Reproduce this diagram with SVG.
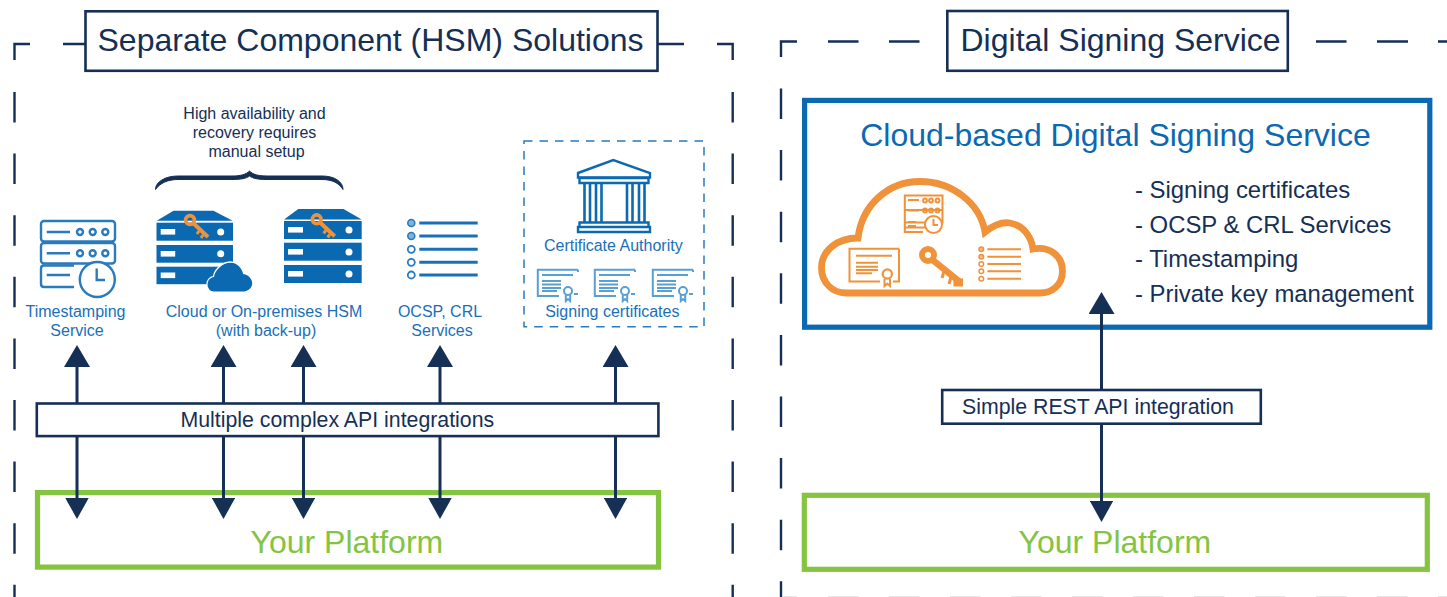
<svg xmlns="http://www.w3.org/2000/svg" xmlns:xlink="http://www.w3.org/1999/xlink" width="1447" height="597" viewBox="0 0 1447 597">
<style>
text{font-family:"Liberation Sans",Arial,sans-serif}
.navy{fill:#152f55}.blue{fill:#1a70b8}.green{fill:#84c441}
.t32{font-size:32px}.t21{font-size:21.3px}.t23{font-size:23.9px}.t16{font-size:16px}
.mid{text-anchor:middle}
.frame{fill:none;stroke:#152f55;stroke-width:2.4}
.dash{stroke-dasharray:30.5 31.1}
.titlebox{fill:#fff;stroke:#152f55;stroke-width:2.6}
.apibox{fill:#fff;stroke:#152f55;stroke-width:2.6}
.gbox{fill:#fff;stroke:#84c441;stroke-width:5.2}
.bbox{fill:#fff;stroke:#0b69b2;stroke-width:5.2}
.conn{fill:none;stroke:#152f55;stroke-width:3}
.bar{fill:#0b69b2}.wh{fill:#fff}
.ol{fill:none;stroke:#2a7bbd;stroke-width:2.4}
.oc{fill:none;stroke:#f0923a;stroke-width:2}
.cert{fill:none;stroke:#5a9fd4;stroke-width:2}
</style>
<defs>
<marker id="hu" markerUnits="userSpaceOnUse" viewBox="-22 -13 22 26" refX="0" refY="0" markerWidth="22" markerHeight="26" orient="auto"><path d="M0-13V13L-22 0Z" fill="#152f55"/></marker>
<marker id="hd" markerUnits="userSpaceOnUse" viewBox="0 -11.7 21 23.4" refX="0" refY="0" markerWidth="21" markerHeight="23.4" orient="auto"><path d="M0-11.7V11.7L21 0Z" fill="#152f55"/></marker>
<g id="key">
<path d="M2 2L18 17" fill="none" stroke="#f0923a" stroke-width="4"/><path d="M9 11l-2 3M13 15l-2 3" stroke="#f0923a" stroke-width="3" fill="none"/>
<circle r="4.400" cx="0" cy="0" fill="none" stroke="#f0923a" stroke-width="3.600"/>
</g>
<g id="c1">
<path class="cert" d="M41 .8H.8V27H22"/>
<path class="cert" d="M5 6H36M5 12H24M5 15.500H24M5 19H24M5 22H20"/>
<path class="cert" d="M41 .8V3M41 25H37"/>
<circle cx="31" cy="22" r="4" fill="#fff" stroke="#5a9fd4" stroke-width="2"/>
<path class="cert" d="M28.800 26V32L31 30L33.200 32V26"/>
</g>
</defs>

<g id="frames">
<path class="frame" d="M14.500 60V44H30M63 44H85M658 44H684M717 44H732.700V60"/>
<path class="frame dash" d="M14.500 92V597"/>
<path class="frame dash" d="M732.700 92V597"/>
<path class="frame" d="M781 57V41.500H797M828 41.500H858.500M889 41.500H919.500M1316 41.500H1346.500M1377 41.500H1408M1438 41.500H1447"/>
<path class="frame dash" d="M781 88.500V597"/>
<path d="M783 596.500H797M828 596.500H858.500M889 596.500H919.500M950 596.500H980.500M1011 596.500H1041.500M1072 596.500H1102.500M1133 596.500H1163.500M1194 596.500H1224.500M1255 596.500H1285.500M1316 596.500H1346.500M1377 596.500H1407.500M1438 596.500H1447" stroke="#e6e6e6" stroke-width="1" fill="none"/>
</g>

<g id="title-left"><rect class="titlebox" x="85.500" y="11.300" width="572" height="59.500"/><text class="navy t32" x="97.500" y="51">Separate Component (HSM) Solutions</text></g>
<g id="title-right"><rect class="titlebox" x="947.300" y="11" width="340.500" height="59.800"/><text class="navy t32" x="960.500" y="51">Digital Signing Service</text></g>

<g id="platform-left"><rect class="gbox" x="37.500" y="492.600" width="621" height="74.500"/><text class="green t32" x="250.500" y="552.500">Your Platform</text></g>
<g id="platform-right"><rect class="gbox" x="804.300" y="495.300" width="623" height="74"/><text class="green t32" x="1018.500" y="552.500">Your Platform</text></g>

<g id="cloud-service">
<rect class="bbox" x="804.600" y="100.400" width="625.200" height="226.800"/>
<text class="t32 mid" x="1115.500" y="146" fill="#0b69b2">Cloud-based Digital Signing Service</text>
<g id="cloud-icon">
<path d="M846 293C832 293 821.500 282 821.500 268C821.500 250 838 238 858 238C862 205 888 181.500 920 181.500C952 181.500 980 203 985 232C995 224 1003 222 1010 223C1022 225 1031 235 1033 249C1050 246 1062.500 256 1062.500 271C1062.500 285 1052 293 1040 293Z" fill="none" stroke="#f0923a" stroke-width="6.800"/>
<rect x="980" y="240" width="44" height="45" fill="#fff"/>
<path class="oc" d="M904.800 195.500H942.500V210H904.800ZM904.800 210V222.500H942.500V210M904.800 222.500V227.500H925M904.800 227.500V232H923"/>
<path class="oc" d="M908 200H919M908 210.500H919M908 222H916M908 226H916"/>
<circle class="oc" cx="925" cy="200.500" r="1.900"/><circle class="oc" cx="931" cy="200.500" r="1.900"/><circle class="oc" cx="937.500" cy="200.500" r="1.900"/>
<circle class="oc" cx="925" cy="210.500" r="1.900"/><circle class="oc" cx="931" cy="210.500" r="1.900"/><circle class="oc" cx="937.500" cy="210.500" r="1.900"/>
<circle cx="933.500" cy="224.500" r="8.500" fill="#fff" stroke="#f0923a" stroke-width="2"/><path class="oc" d="M933.500 219V225H938"/>
<path class="oc" d="M899 248.800H849.500V281.500H880M899 248.800V281.500H893"/>
<path class="oc" d="M856 255.700H892M856 262.700H878M856 266.700H878M856 270H878M856 273.300H872"/>
<circle cx="887.300" cy="274" r="4.600" fill="#fff" stroke="#f0923a" stroke-width="2.200"/><path class="oc" d="M884.500 279V286L887.300 283.500L890 286V279"/>
<circle cx="928" cy="255" r="6" fill="none" stroke="#f0923a" stroke-width="6"/>
<path d="M932 259.500L960 282" fill="none" stroke="#f0923a" stroke-width="6.500"/><path d="M944 271l-2 7M951 277l-2 7M955 280v5H961.500V280Z" fill="#f0923a" stroke="#f0923a" stroke-width="3"/>
<path class="oc" d="M987.300 249.300H1021M987.300 256.700H1021M987.300 264H1021M987.300 271.300H1021M987.300 278.700H1021"/>
<circle cx="981.300" cy="249.300" r="2.300" fill="#f7bd85" stroke="#f0923a" stroke-width="1.500"/><circle cx="981.300" cy="256.700" r="2.300" fill="#f7bd85" stroke="#f0923a" stroke-width="1.500"/><circle cx="981.300" cy="264" r="2.300" fill="#fff" stroke="#f0923a" stroke-width="1.500"/><circle cx="981.300" cy="271.300" r="2.300" fill="#fff" stroke="#f0923a" stroke-width="1.500"/><circle cx="981.300" cy="278.700" r="2.300" fill="#fff" stroke="#f0923a" stroke-width="1.500"/>
</g>
<text class="navy t23" x="1135" y="198">- Signing certificates</text>
<text class="navy t23" x="1135" y="232.500">- OCSP &amp; CRL Services</text>
<text class="navy t23" x="1135" y="267">- Timestamping</text>
<text class="navy t23" x="1135" y="301.500">- Private key management</text>
</g>

<g id="connectors">
<path class="conn" marker-start="url(#hu)" marker-end="url(#hd)" d="M77 367V498"/>
<path class="conn" marker-start="url(#hu)" marker-end="url(#hd)" d="M223.500 367V498"/>
<path class="conn" marker-start="url(#hu)" marker-end="url(#hd)" d="M303.500 367V498"/>
<path class="conn" marker-start="url(#hu)" marker-end="url(#hd)" d="M440 367V498"/>
<path class="conn" marker-start="url(#hu)" marker-end="url(#hd)" d="M615.500 367V498"/>
<path class="conn" marker-start="url(#hu)" marker-end="url(#hd)" d="M1101.500 314V501"/>
</g>

<g id="api-left"><rect class="apibox" x="36.800" y="403.500" width="621.600" height="32.600"/><text class="navy t21" x="180.500" y="427">Multiple complex API integrations</text></g>
<g id="api-right"><rect class="apibox" x="942.200" y="390" width="318.600" height="33.700"/><text class="navy t21" x="962" y="413.500">Simple REST API integration</text></g>

<g id="brace-note">
<text class="navy t16 mid" x="254.500" y="119">High availability and</text>
<text class="navy t16 mid" x="254.500" y="138">recovery requires</text>
<text class="navy t16 mid" x="256.500" y="157">manual setup</text>
<path d="M155.500 189.500C155.500 182 165 176 178 176H232C241 176 246 174.500 249.500 171C253 174.500 258 176 267 176H322C335 176 343 182 343 189.500C339 183 332 179.500 322 179.500H267C258 179.500 253 178.500 249.500 176C246 178.500 241 179.500 232 179.500H178C168 179.500 160 183 155.500 189.500Z" fill="#152f55" stroke="#152f55" stroke-width="1"/>
</g>

<g id="timestamping">
<rect class="ol" x="41" y="221" width="74" height="20.500" rx="3"/>
<rect class="ol" x="41" y="243" width="74" height="20.500" rx="3"/>
<path class="ol" d="M74 265.500H44Q41 265.500 41 268.500V284Q41 287 44 287H74"/>
<path class="ol" d="M46.700 232H70M46.700 253.300H70M46.700 275H70"/>
<circle class="ol" cx="80" cy="232" r="3"/><circle class="ol" cx="92.700" cy="232" r="3"/><circle class="ol" cx="105.300" cy="232" r="3"/>
<circle class="ol" cx="80" cy="253.300" r="3"/><circle class="ol" cx="92.700" cy="253.300" r="3"/><circle class="ol" cx="105.300" cy="253.300" r="3"/>
<circle cx="97.300" cy="279.500" r="17.500" fill="#fff" stroke="#2a7bbd" stroke-width="2.400"/>
<path class="ol" d="M96.700 268.500V280H105"/>
<text class="blue t16 mid" x="75.500" y="317">Timestamping</text>
<text class="blue t16 mid" x="77" y="336">Service</text>
</g>

<g id="hsm">
<path class="bar" d="M156.700 220.700L173.500 210.700H213.500L232.700 220.700Z"/>
<rect class="bar" x="156.500" y="222.700" width="76.500" height="18"/>
<rect class="bar" x="156.500" y="245" width="76.500" height="17.700"/>
<rect class="bar" x="156.500" y="266.700" width="76.500" height="17.500"/>
<rect class="wh" x="160.700" y="229" width="14.500" height="5.600"/><rect class="wh" x="160.700" y="251" width="14.500" height="5.600"/><rect class="wh" x="160.700" y="272.500" width="14.500" height="5.600"/>
<circle class="wh" cx="220.700" cy="232" r="3.500"/><circle class="wh" cx="220.700" cy="253.800" r="3.500"/>
<use xlink:href="#key" href="#key" x="190" y="220"/>
<path d="M214 291.500C206 291.500 205 278 214 277C215 269 226 259 236 264C241 267 243 272 243 274C250 275 253 281 252 285C251 289 247 291.500 243 291.500Z" fill="#0b69b2" stroke="#fff" stroke-width="2.500" paint-order="stroke"/>
<path class="bar" d="M284 219.500L298.300 209H343.500L361.700 219.500Z"/>
<rect class="bar" x="284" y="221" width="77.700" height="18"/>
<rect class="bar" x="284" y="242.700" width="77.700" height="18"/>
<rect class="bar" x="284" y="265" width="77.700" height="18"/>
<rect class="wh" x="288" y="227" width="15" height="5.600"/><rect class="wh" x="288" y="249" width="15" height="5.600"/><rect class="wh" x="288" y="271" width="15" height="5.600"/>
<circle class="wh" cx="349" cy="230" r="3.500"/><circle class="wh" cx="349" cy="252" r="3.500"/><circle class="wh" cx="349" cy="274" r="3.500"/>
<use xlink:href="#key" href="#key" x="316.700" y="219.300"/>
<text class="blue t16 mid" x="264" y="317">Cloud or On-premises HSM</text>
<text class="blue t16 mid" x="266" y="336">(with back-up)</text>
</g>

<g id="ocsp">
<path d="M419.300 223H477.700M419.300 236H477.700M419.300 249.300H477.700M419.300 262.300H477.700M419.300 275H477.700" fill="none" stroke="#1a70b8" stroke-width="3"/>
<circle cx="411.300" cy="223" r="3.500" fill="#7fb3dc" stroke="#2a7bbd" stroke-width="1.600"/><circle cx="411.300" cy="236" r="3.500" fill="#7fb3dc" stroke="#2a7bbd" stroke-width="1.600"/><circle cx="411.300" cy="249.300" r="3.500" fill="#fff" stroke="#2a7bbd" stroke-width="1.800"/><circle cx="411.300" cy="262.300" r="3.500" fill="#fff" stroke="#2a7bbd" stroke-width="1.800"/><circle cx="411.300" cy="275" r="3.500" fill="#fff" stroke="#2a7bbd" stroke-width="1.800"/>
<text class="blue t16 mid" x="440" y="317">OCSP, CRL</text>
<text class="blue t16 mid" x="442" y="336">Services</text>
</g>

<g id="ca">
<rect x="524" y="141" width="180" height="185.700" fill="none" stroke="#2a7bbd" stroke-width="1.500" stroke-dasharray="8.500 7"/>
<path d="M578 173L613.300 160L650 173V177.500H578Z" fill="#fff" stroke="#0b69b2" stroke-width="2.400"/>
<path d="M579.500 178H648.500V183H579.500ZM579.500 222.500H648.500V227H579.500ZM578 227H650V232H578Z" fill="#fff" stroke="#0b69b2" stroke-width="2.400"/>
<path d="M584.500 183V222.500M590 183V222.500M596 183V222.500M601.500 183V222.500M627 183V222.500M632.500 183V222.500M639 183V222.500M644.500 183V222.500" fill="none" stroke="#0b69b2" stroke-width="2.600"/>
<text class="blue t16 mid" x="613.300" y="251">Certificate Authority</text>
<use xlink:href="#c1" href="#c1" x="537" y="269"/><use xlink:href="#c1" href="#c1" x="594" y="269"/><use xlink:href="#c1" href="#c1" x="652" y="269"/>
<text class="blue t16 mid" x="612.300" y="317">Signing certificates</text>
</g>
</svg>
